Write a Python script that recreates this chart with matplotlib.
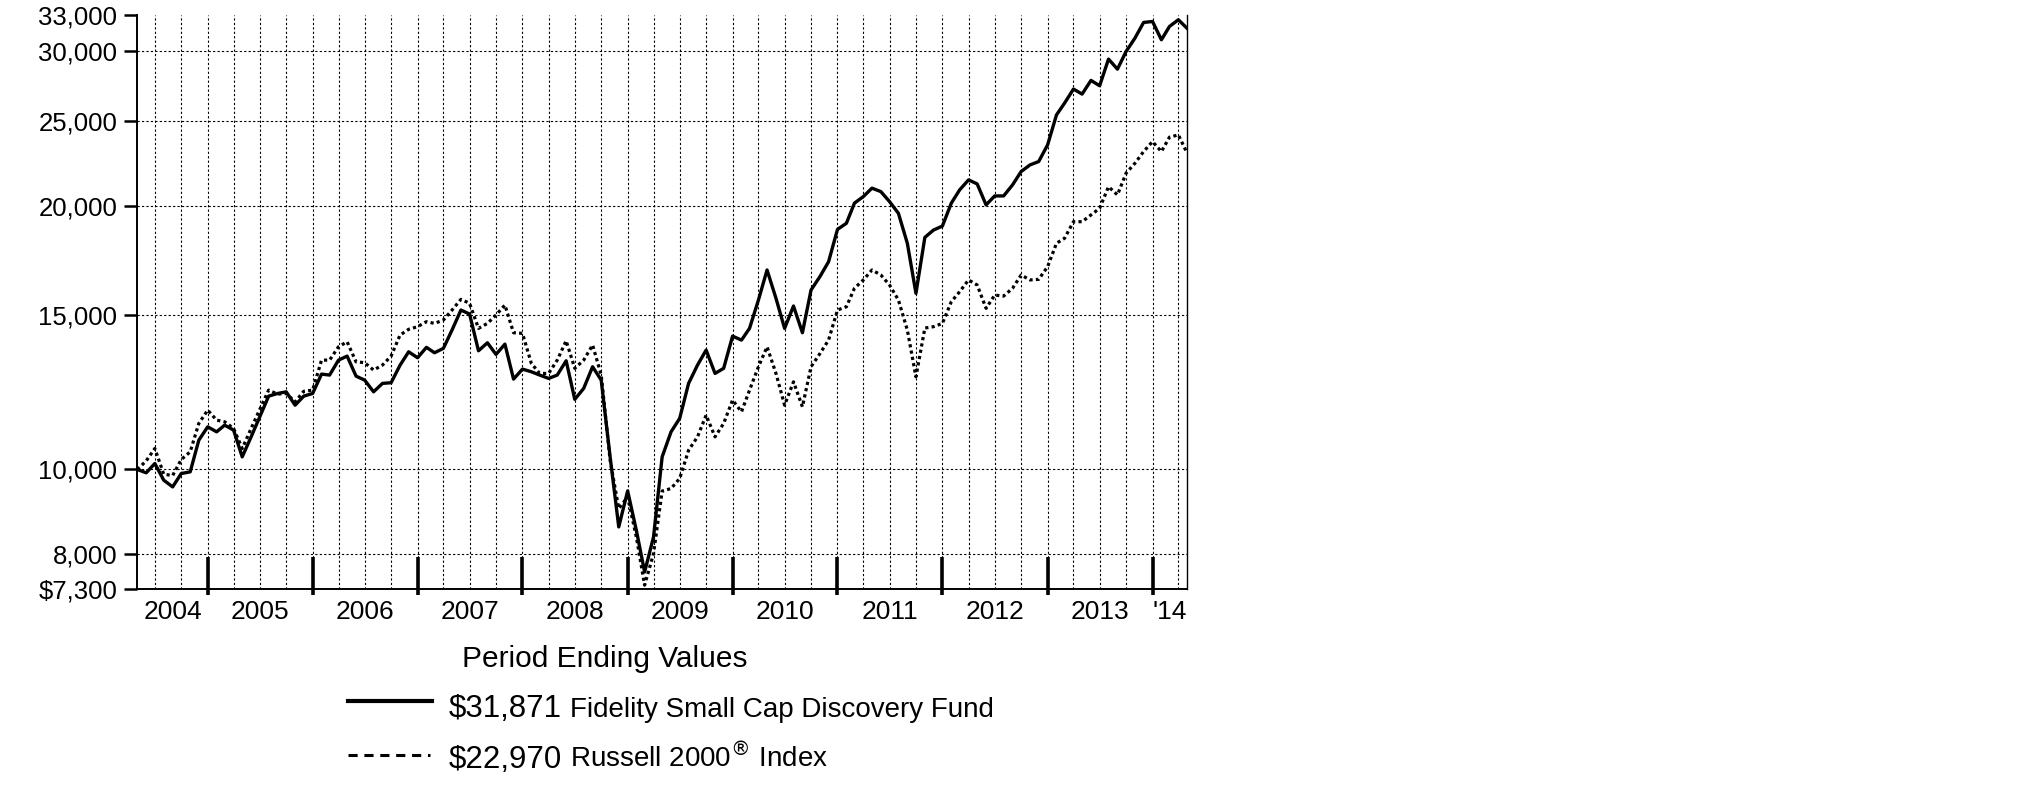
"""Growth of a hypothetical $10,000 investment, April 2004 - April 2014:
Fidelity Small Cap Discovery Fund against the Russell 2000 Index, log scale.
"""

import matplotlib

matplotlib.use("Agg")
import matplotlib.pyplot as plt
import pandas as pd
from matplotlib.lines import Line2D
from matplotlib.ticker import FixedLocator, FixedFormatter, NullLocator

plt.rcParams["font.family"] = ["Liberation Sans", "DejaVu Sans"]

# month-end values, Apr 2004 .. Apr 2014
months = pd.date_range("2004-04-30", "2014-04-30", freq="ME")

fund = [
    10000, 9913, 10159, 9723, 9553, 9895, 9938, 10800, 11187, 11040,
    11236, 11090, 10337, 10895, 11483, 12125, 12210, 12264, 11840, 12125,
    12210, 12848, 12815, 13328, 13470, 12780, 12647, 12264, 12538, 12560,
    13150, 13623, 13412, 13784, 13588, 13748, 14426, 15203, 15043, 13660,
    13949, 13530, 13901, 12680, 13017, 12927, 12815, 12703, 12815, 13305,
    12023, 12374, 13098, 12647, 10337, 8600, 9453, 8500, 7640, 8375,
    10337, 11040, 11437, 12538, 13156, 13684, 12871, 13044, 14196, 14048,
    14488, 15609, 16890, 15680, 14488, 15364, 14322, 16025, 16600, 17260,
    18790, 19094, 20131, 20483, 20940, 20749, 20215, 19600, 18118, 15885,
    18400, 18757, 18955, 20131, 20845, 21399, 21174, 20039, 20516, 20516,
    21119, 21874, 22260, 22456, 23459, 25385, 26180, 27165, 26810, 27790,
    27403, 29391, 28625, 29982, 31060, 32360, 32443, 30920, 32020, 32592,
    31871,
]

russell = [
    10000, 10230, 10567, 9877, 9843, 10266, 10474, 11287, 11688, 11385,
    11335, 11138, 10567, 11138, 11708, 12318, 12189, 12210, 11944, 12280,
    12318, 13328, 13328, 13804, 13986, 13268, 13240, 12985, 13156, 13470,
    14233, 14452, 14552, 14745, 14678, 14810, 15203, 15636, 15474, 14488,
    14678, 15005, 15403, 14322, 14300, 13213, 12871, 12871, 13328, 14024,
    13044, 13328, 13868, 12815, 10247, 9026, 9305, 8350, 7380, 8017,
    9450, 9512, 9766, 10520, 10895, 11534, 10895, 11287, 12002, 11635,
    12318, 13098, 13804, 12871, 11840, 12590, 11790, 13098, 13560, 14048,
    15203, 15334, 16098, 16453, 16890, 16668, 16237, 15609, 14426, 12757,
    14500, 14552, 14678, 15537, 15953, 16453, 16237, 15270, 15812, 15770,
    16098, 16668, 16453, 16480, 17035, 18118, 18357, 19174, 19174, 19518,
    19861, 21021, 20571, 21777, 22360, 23052, 23664, 23052, 23939, 24085,
    22970,
]

y_ticks = [7300, 8000, 10000, 15000, 20000, 25000, 30000, 33000]
y_labels = ["$7,300", "8,000", "10,000", "15,000", "20,000", "25,000", "30,000", "33,000"]
year_labels = ["2004", "2005", "2006", "2007", "2008", "2009", "2010", "2011", "2012", "2013", "'14"]

fund_end = "$31,871"
russell_end = "$22,970"
fund_name = "Fidelity Small Cap Discovery Fund"
russell_name = r"Russell 2000$^{\circledR}$ Index"

W, H = 2025, 806
fig = plt.figure(figsize=(W / 100, H / 100), dpi=100)
ax = fig.add_axes([137.3 / W, 1 - 589.3 / H, (1187 - 137.3) / W, (589.3 - 15) / H])

ax.plot(months, fund, color="black", lw=2.4, zorder=4)
ax.plot(months, russell, color="black", lw=2.3, linestyle=(0, (1, 1)), zorder=3)

ax.set_yscale("log")
ax.set_ylim(y_ticks[0], y_ticks[-1])
ax.set_xlim(months[0], months[-1])

ax.yaxis.set_major_locator(FixedLocator(y_ticks))
ax.yaxis.set_major_formatter(FixedFormatter(y_labels))
ax.yaxis.set_minor_locator(NullLocator())
ax.tick_params(axis="y", direction="out", length=9.5, width=1.8, labelsize=18.5, pad=5)

# year labels sit midway between the year-end marks
year_ends = pd.to_datetime([f"{y}-12-31" for y in range(2004, 2014)])
bounds = [months[0]] + list(year_ends) + [months[-1]]
mids = [a + (b - a) / 2 for a, b in zip(bounds[:-1], bounds[1:])]
ax.set_xticks(mids)
ax.set_xticklabels(year_labels)
ax.tick_params(axis="x", which="major", length=0, labelsize=19, pad=7.5)

quarters = pd.date_range("2004-06-30", "2014-03-31", freq="QE")
ax.set_xticks(quarters, minor=True)
ax.tick_params(axis="x", which="minor", length=0)

grid_kw = dict(color="black", lw=0.8, linestyle=(0, (2, 2)))
ax.grid(which="minor", axis="x", **grid_kw)
ax.grid(which="major", axis="y", **grid_kw)
ax.grid(which="major", axis="x", visible=False)
for gl in (ax.yaxis.get_gridlines()[0], ax.yaxis.get_gridlines()[-1]):
    gl.set_visible(False)

ax.vlines(year_ends, -0.01, 0.057, transform=ax.get_xaxis_transform(),
          colors="black", lw=2.6, clip_on=False, zorder=5)

ax.spines["top"].set_visible(False)
ax.spines["left"].set_linewidth(1.4)
ax.spines["bottom"].set_linewidth(1.4)
ax.spines["right"].set_linewidth(1.0)

# legend block under the plot
def fx(px):
    return px / W


def fy(py):
    return 1 - py / H


fig.text(fx(462), fy(667), "Period Ending Values", fontsize=21.5, va="baseline")
fig.add_artist(Line2D([fx(348), fx(432)], [fy(701), fy(701)], color="black", lw=3))
fig.add_artist(Line2D([fx(348), fx(430)], [fy(755), fy(755)], color="black", lw=2.2,
                      linestyle=(0, (3, 2.2))))
fig.text(fx(449), fy(717), fund_end, fontsize=22.5, va="baseline")
fig.text(fx(570), fy(717), fund_name, fontsize=20, va="baseline")
fig.text(fx(449), fy(768), russell_end, fontsize=22.5, va="baseline")
fig.text(fx(570), fy(768), russell_name, fontsize=20, va="baseline")

fig.savefig("out.png", dpi=100)
